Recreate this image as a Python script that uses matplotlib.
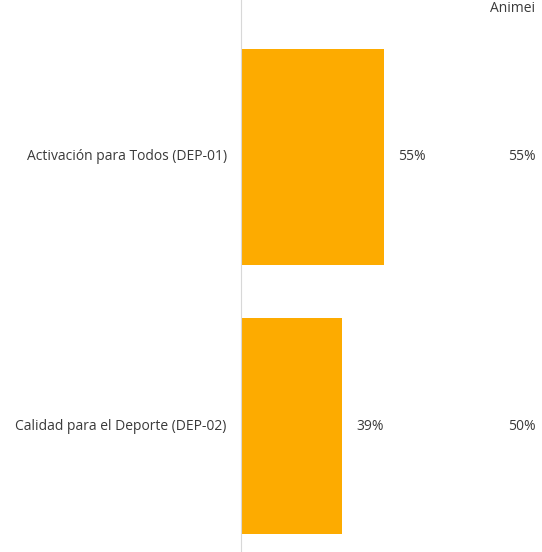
import matplotlib.pyplot as plt

# data
categories = ["Activación para Todos (DEP-01)", "Calidad para el Deporte (DEP-02)"]
values = [55, 39]            # bar percentages
right_values = [55, 50]      # second column at the right edge
right_header = "Animei"      # header partly cut off in the scan

bar_color = "#FDAB00"
text_color = "#3a3a3a"
fs = 10

W, H = 542, 552
fig = plt.figure(figsize=(W / 100, H / 100), dpi=100)
fig.patch.set_facecolor("white")

# axes: zero line at x=241 px, 2.6 px per percent
x0 = 241
ax = fig.add_axes([x0 / W, 0, 1 - x0 / W, 1])
ax.set_xlim(0, (W - x0) / 2.6)
# category centres at 157 px and 426 px from top
px_per_cat = 269
ax.set_ylim(1 + (H - 426) / px_per_cat, -157 / px_per_cat)

ypos = list(range(len(categories)))
ax.barh(ypos, values, height=0.8, color=bar_color, zorder=2)

for y, v in zip(ypos, values):
    ax.text(v + 5.5, y, f"{v}%", va="center", ha="left", fontsize=fs,
            color=text_color, family="Open Sans")
    ax.text(-5.5, y, categories[y], va="center", ha="right", fontsize=fs,
            color=text_color, family="Open Sans", clip_on=False)

for y, v in zip(ypos, right_values):
    ax.text((508 - x0) / 2.6, y, f"{v}%", va="center", ha="left",
            fontsize=fs, color=text_color, family="Open Sans", clip_on=False)

fig.text(490 / W, 1 - 1 / H, right_header, ha="left", va="top",
         fontsize=fs, color=text_color, family="Open Sans")

for s in ["top", "right", "bottom"]:
    ax.spines[s].set_visible(False)
ax.spines["left"].set_color("#d8d8d8")
ax.spines["left"].set_linewidth(0.8)
ax.set_xticks([])
ax.set_yticks([])
ax.set_facecolor("none")

fig.savefig("out.png", dpi=100)
